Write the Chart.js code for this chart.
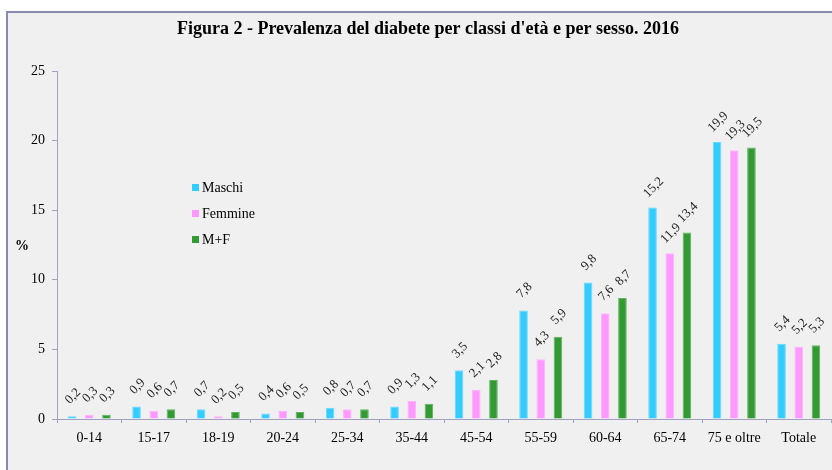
<!DOCTYPE html>
<html>
<head>
<meta charset="utf-8">
<script src="https://cdn.jsdelivr.net/npm/chart.js@4/dist/chart.umd.min.js"></script>
<style>
  html, body { margin: 0; padding: 0; background: #ffffff; overflow: hidden; }
  #wrap { width: 832px; height: 470px; }
</style>
</head>
<body>
<div id="wrap"><canvas id="c" width="832" height="470"></canvas></div>
<script>
const categories = ['0-14','15-17','18-19','20-24','25-34','35-44','45-54','55-59','60-64','65-74','75 e oltre','Totale'];
const maschi   = [0.2, 0.9, 0.7, 0.4, 0.8, 0.9, 3.5, 7.8, 9.8, 15.2, 19.9, 5.4];
const femmine  = [0.3, 0.6, 0.2, 0.6, 0.7, 1.3, 2.1, 4.3, 7.6, 11.9, 19.3, 5.2];
const totale   = [0.3, 0.7, 0.5, 0.5, 0.7, 1.1, 2.8, 5.9, 8.7, 13.4, 19.5, 5.3];
const seriesNames = ['Maschi', 'Femmine', 'M+F'];
const yTicks = [0, 5, 10, 15, 20, 25];
const titleText = "Figura 2 - Prevalenza del diabete per classi d'età e per sesso. 2016";

const AXIS = '#a0a0c0';
const FONT = '"Liberation Serif", "Times New Roman", serif';

const framePlugin = {
  id: 'frame',
  beforeDraw(chart) {
    const ctx = chart.ctx;
    ctx.save();
    ctx.fillStyle = '#ffffff';
    ctx.fillRect(0, 0, chart.width, chart.height);
    ctx.fillStyle = '#f0f0f0';
    ctx.fillRect(8, 13, chart.width - 8, chart.height - 13);
    ctx.strokeStyle = '#8a8aae';
    ctx.lineWidth = 2;
    ctx.beginPath();
    ctx.moveTo(7, chart.height);
    ctx.lineTo(7, 12);
    ctx.lineTo(chart.width, 12);
    ctx.stroke();
    // title
    ctx.fillStyle = '#000';
    ctx.font = 'bold 18px ' + FONT;
    ctx.textAlign = 'center';
    ctx.textBaseline = 'alphabetic';
    ctx.fillText(titleText, 428, 34);
    // % label
    ctx.font = 'bold 14px ' + FONT;
    ctx.textBaseline = 'middle';
    ctx.fillText('%', 22, 246);
    ctx.restore();
  },
  afterDatasetsDraw(chart) {
    const ctx = chart.ctx;
    ctx.save();
    // value labels
    ctx.fillStyle = '#222';
    ctx.font = '13px ' + FONT;
    ctx.textAlign = 'center';
    ctx.textBaseline = 'middle';
    chart.data.datasets.forEach((ds, i) => {
      const meta = chart.getDatasetMeta(i);
      meta.data.forEach((bar, j) => {
        const txt = ds.data[j].toFixed(1).replace('.', ',');
        ctx.save();
        ctx.translate(bar.x + 1, bar.y - 20);
        ctx.rotate(-Math.PI / 4);
        ctx.fillText(txt, 0, 0);
        ctx.restore();
      });
    });
    // legend
    const ly = [188, 214, 240];
    ctx.font = '14px ' + FONT;
    ctx.textAlign = 'left';
    chart.data.datasets.forEach((ds, i) => {
      ctx.fillStyle = ds.backgroundColor;
      ctx.fillRect(192, ly[i] - 4, 7, 7);
      ctx.fillStyle = '#000';
      ctx.fillText(ds.label, 202, ly[i]);
    });
    ctx.restore();
  }
};

new Chart(document.getElementById('c'), {
  type: 'bar',
  data: {
    labels: categories,
    datasets: [
      { label: seriesNames[0], data: maschi,  backgroundColor: '#33ccff', borderColor: '#66d8ff', borderWidth: 1 },
      { label: seriesNames[1], data: femmine, backgroundColor: '#ff99ff', borderColor: '#ffb3ff', borderWidth: 1 },
      { label: seriesNames[2], data: totale,  backgroundColor: '#339933', borderColor: '#5cb35c', borderWidth: 1 }
    ]
  },
  options: {
    responsive: false,
    animation: false,
    devicePixelRatio: 1,
    layout: { padding: { top: 71, left: 0, right: 1, bottom: 0 } },
    datasets: { bar: { categoryPercentage: 0.8, barPercentage: 0.5 } },
    plugins: { legend: { display: false }, title: { display: false }, tooltip: { enabled: false } },
    scales: {
      x: {
        grid: { display: true, drawOnChartArea: false, drawTicks: true, tickLength: 4, color: AXIS, offset: true },
        border: { display: true, color: AXIS, width: 1 },
        ticks: { color: '#000', font: { family: FONT, size: 14 }, padding: 7, maxRotation: 0, autoSkip: false },
        afterFit(scale) { scale.height = 51; }
      },
      y: {
        min: 0, max: 25,
        afterBuildTicks(scale) { scale.ticks = yTicks.map(v => ({ value: v })); },
        grid: { display: true, drawOnChartArea: false, drawTicks: true, tickLength: 5, color: AXIS },
        border: { display: true, color: AXIS, width: 1 },
        ticks: { color: '#000', font: { family: FONT, size: 14 }, padding: 7 },
        afterFit(scale) { scale.width = 57; }
      }
    }
  },
  plugins: [framePlugin]
});
</script>
</body>
</html>
